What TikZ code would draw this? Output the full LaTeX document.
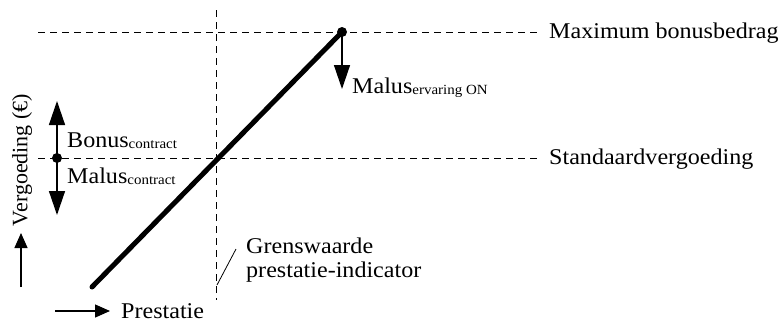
\documentclass[tikz,border=0pt]{standalone}
\usepackage{fontspec}
\setmainfont[FakeStretch=1.07]{Liberation Serif}
\newfontfamily\axisfont{Liberation Serif}
\usetikzlibrary{arrows.meta}
\tikzset{
  guide/.style={dash pattern=on 7pt off 5pt, line width=0.8pt},
  big arrow/.style={line width=1.4pt, -{Triangle[length=24pt,width=16pt]}},
  small arrow/.style={line width=1.3pt, -{Triangle[length=15pt,width=13pt]}},
  lbl/.style={inner sep=0pt, anchor=base west, font=\fontsize{22.5}{26}\selectfont},
  dot/.style={circle, fill=black, inner sep=0pt, minimum size=10pt},
}
\newcommand{\sub}[1]{\raisebox{-1pt}{\fontsize{14}{16}\selectfont #1}}
\begin{document}
\begin{tikzpicture}[x=1pt, y=-1pt]
  \useasboundingbox (0,0) rectangle (783,330);
  % reference lines
  \coordinate (maxL) at (38,32);
  \coordinate (maxR) at (540,32);
  \coordinate (stdL) at (38,158);
  \coordinate (stdR) at (540,158);
  \coordinate (grT) at (216,10);
  \coordinate (grB) at (216,300);
  \draw[guide] (maxL) -- (maxR);
  \draw[guide] (stdL) -- (stdR);
  \draw[guide] (grT) -- (grB);
  % performance curve
  \coordinate (lo) at (92,287);
  \node[dot] (top) at (342,32) {};
  \draw[line width=5pt, line cap=round] (lo) -- (top.center);
  % malus from experience
  \coordinate (mtip) at (342,89);
  \draw[big arrow] (top.center) -- (mtip);
  \node[lbl] (mal1) at (352,93) {Malus\sub{ervaring ON}};
  % bonus/malus around standard
  \node[dot] (std) at (57,158) {};
  \coordinate (up) at (57,101);
  \coordinate (dn) at (57,215);
  \draw[big arrow] (std.center) -- (up);
  \draw[big arrow] (std.center) -- (dn);
  \node[lbl] (bon) at (67,147) {Bonus\sub{contract}};
  \node[lbl] (mal2) at (67,183) {Malus\sub{contract}};
  % right labels
  \node[lbl] (maxlbl) at (549,38) {Maximum bonusbedrag};
  \node[lbl] (stdlbl) at (549,164) {Standaardvergoeding};
  % threshold label
  \node[lbl] (gr1) at (246,253) {Grenswaarde};
  \node[lbl] (gr2) at (246,277) {prestatie-indicator};
  \coordinate (s1) at (236,249);
  \coordinate (s2) at (217,285);
  \draw[line width=0.8pt] (s1) -- (s2);
  % axes
  \node[inner sep=0pt, rotate=90, font=\axisfont\fontsize{22}{24}\selectfont] (ylbl) at (22,160) {Vergoeding (€)};
  \coordinate (ya) at (21,287);
  \coordinate (yb) at (21,233);
  \draw[small arrow] (ya) -- (yb);
  \coordinate (xa) at (55,311);
  \coordinate (xb) at (110,311);
  \draw[small arrow] (xa) -- (xb);
  \node[lbl] (xlbl) at (121,318) {Prestatie};
\end{tikzpicture}
\end{document}
